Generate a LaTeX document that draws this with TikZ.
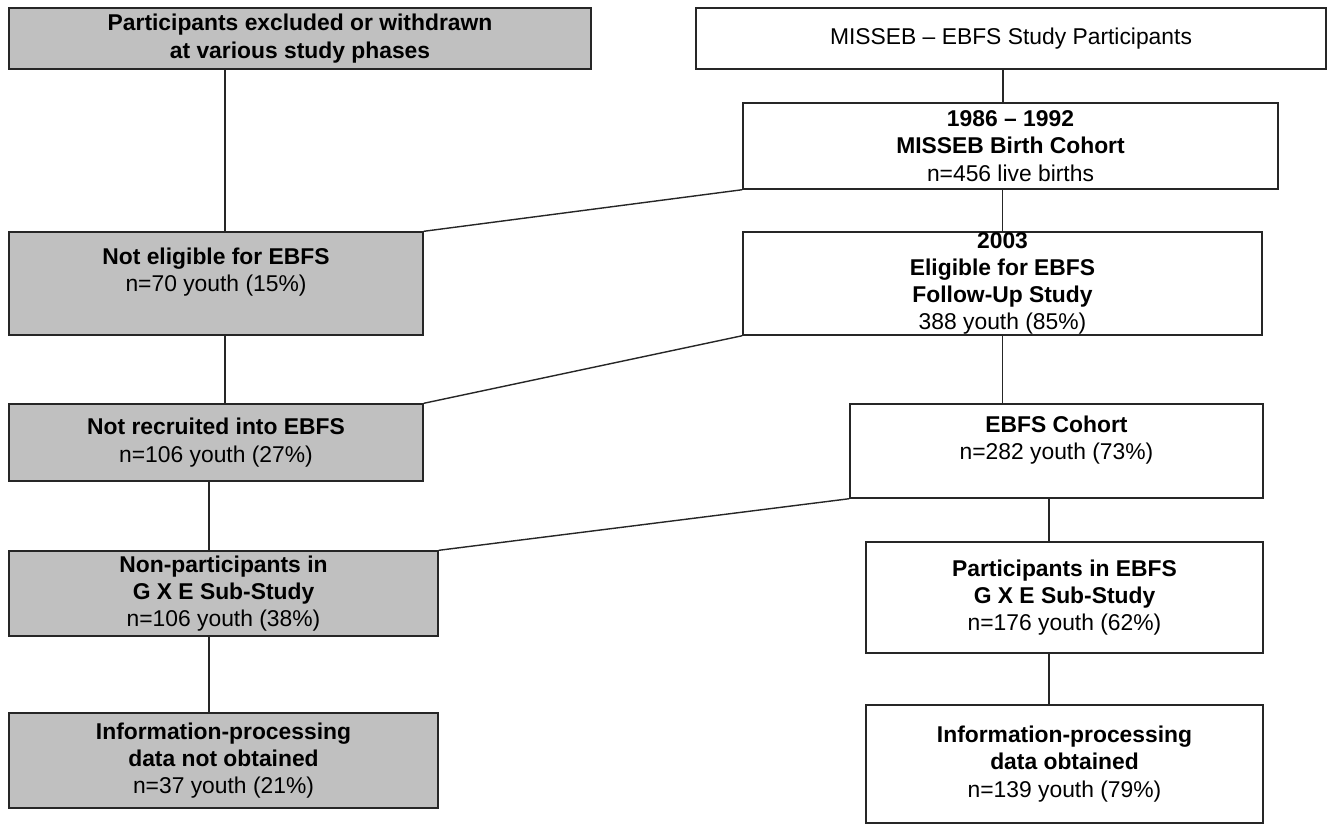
\documentclass[tikz,border=0pt]{standalone}
\usepackage{fontspec}
\setmainfont{Liberation Sans}
\definecolor{boxgray}{HTML}{C0C0C0}

\begin{document}
\begin{tikzpicture}[
every node/.style={
draw=black!85,
line width=0.8pt,
align=center,
inner xsep=4pt,
inner ysep=0pt,
font=\fontsize{13}{15.5}\selectfont
},
excl/.style={
fill=boxgray
},
link/.style={
draw=black!85,
line width=0.8pt
}
]

\useasboundingbox (0,0) rectangle (26.62,-16.5);

% left column: excluded / withdrawn
\node[excl, minimum width=11.64cm, minimum height=1.22cm] (Ex) at (6.00,-0.77)
{\textbf{Participants excluded or withdrawn}\\ \textbf{at various study phases}};

\node[excl, minimum width=8.28cm, minimum height=2.06cm] (Ne) at (4.32,-5.67)
{\textbf{Not eligible for EBFS}\\ n=70 youth (15\%)\\ ~};

\node[excl, minimum width=8.28cm, minimum height=1.54cm] (Nr) at (4.32,-8.85)
{\textbf{Not recruited into EBFS}\\ n=106 youth (27\%)};

\node[excl, minimum width=8.58cm, minimum height=1.70cm] (Np) at (4.47,-11.87)
{\textbf{Non-participants in}\\ \textbf{G X E Sub-Study}\\ n=106 youth (38\%)};

\node[excl, minimum width=8.58cm, minimum height=1.90cm] (Ipn) at (4.47,-15.21)
{\textbf{Information-processing}\\ \textbf{data not obtained}\\ n=37 youth (21\%)};

% right column: study participants
\node[minimum width=12.60cm, minimum height=1.22cm] (St) at (20.22,-0.77)
{MISSEB – EBFS Study Participants};

\node[minimum width=10.70cm, minimum height=1.72cm] (Bc) at (20.21,-2.92)
{\textbf{1986 – 1992}\\ \textbf{MISSEB Birth Cohort}\\ n=456 live births};

\node[minimum width=10.38cm, minimum height=2.06cm] (El) at (20.05,-5.67)
{\textbf{2003}\\ \textbf{Eligible for EBFS}\\ \textbf{Follow-Up Study}\\ 388 youth (85\%)};

\node[minimum width=8.26cm, minimum height=1.88cm] (Co) at (21.13,-9.02)
{\textbf{EBFS Cohort}\\ n=282 youth (73\%)\\ ~};

\node[minimum width=7.94cm, minimum height=2.22cm] (Pa) at (21.29,-11.95)
{\textbf{Participants in EBFS}\\ \textbf{G X E Sub-Study}\\ n=176 youth (62\%)};

\node[minimum width=7.94cm, minimum height=2.36cm] (Ipo) at (21.29,-15.28)
{\textbf{Information-processing}\\ \textbf{data obtained}\\ n=139 youth (79\%)};

% vertical links
\draw[link] ([xshift=0.18cm]Ne.north) -- ([xshift=0.18cm]Ne.north |- Ex.south);
\draw[link] ([xshift=0.18cm]Ne.south) -- ([xshift=0.18cm]Nr.north);
\draw[link] ([xshift=-0.29cm]Np.north) -- ([xshift=-0.29cm]Np.north |- Nr.south);
\draw[link] ([xshift=-0.29cm]Np.south) -- ([xshift=-0.29cm]Ipn.north);

\draw[link] ([xshift=-0.15cm]Bc.north) -- ([xshift=-0.15cm]Bc.north |- St.south);
\draw[link] (El.north) -- (El.north |- Bc.south);
\draw[link] (El.south) -- (El.south |- Co.north);
\draw[link] ([xshift=-0.31cm]Pa.north) -- ([xshift=-0.31cm]Pa.north |- Co.south);
\draw[link] ([xshift=-0.31cm]Pa.south) -- ([xshift=-0.31cm]Ipo.north);

% cross links
\draw[link] (Bc.south west) -- (Ne.north east);
\draw[link] (El.south west) -- (Nr.north east);
\draw[link] (Co.south west) -- (Np.north east);

\end{tikzpicture}
\end{document}
